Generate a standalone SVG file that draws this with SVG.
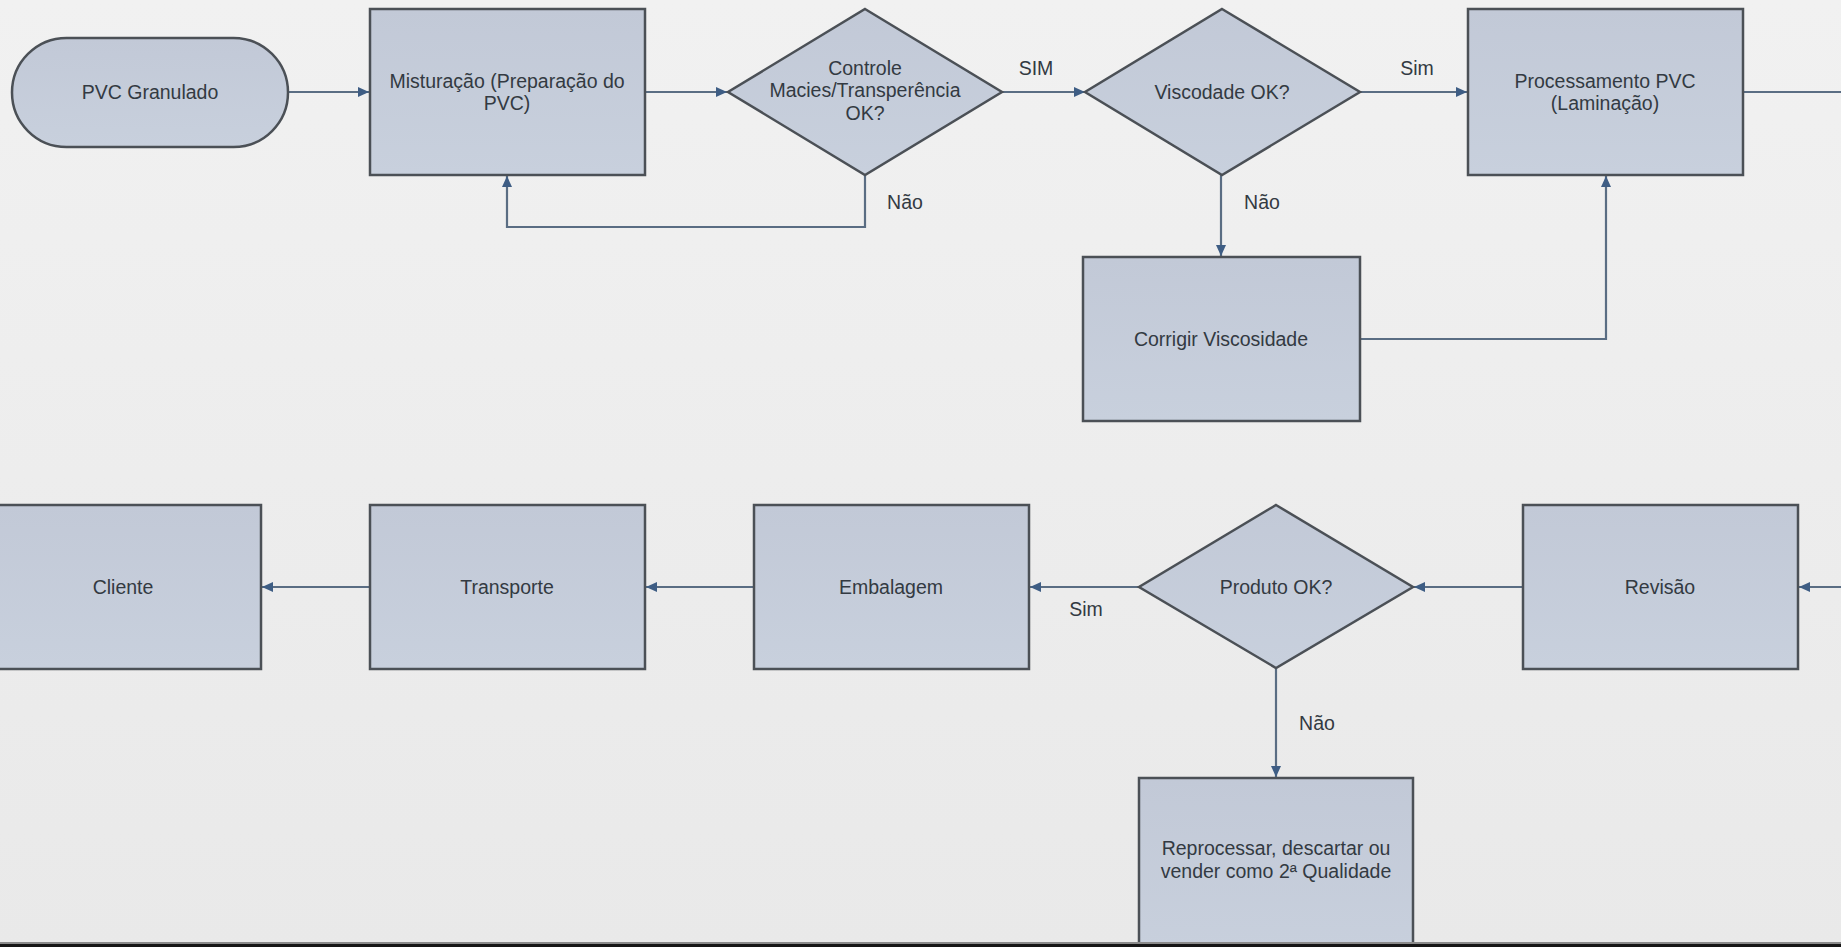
<svg xmlns="http://www.w3.org/2000/svg" width="1841" height="947" viewBox="0 0 1841 947">
  <defs>
    <linearGradient id="bg" x1="0" y1="0" x2="0" y2="1">
      <stop offset="0" stop-color="#f1f1f1"/>
      <stop offset="1" stop-color="#e9e9e9"/>
    </linearGradient>
    <linearGradient id="shapeFill" x1="0" y1="0" x2="0" y2="1">
      <stop offset="0" stop-color="#c2c9d7"/>
      <stop offset="1" stop-color="#c8d0dd"/>
    </linearGradient>
    <marker id="arrow" markerUnits="userSpaceOnUse" markerWidth="12" markerHeight="10" refX="11" refY="5" orient="auto">
      <path d="M0,0 L11,5 L0,10 z" fill="#3e5d84"/>
    </marker>
  </defs>
  <style>
    .shape { fill: url(#shapeFill); stroke: #4b5056; stroke-width: 2.5; }
    .label { font-family: "Liberation Sans", Arial, sans-serif; font-size: 19.5px; fill: #333a42; text-anchor: middle; }
    .edge { fill: none; stroke: #5a6d83; stroke-width: 2.2; }
    .edge-arrow { marker-end: url(#arrow); }
  </style>

  <rect x="0" y="0" width="1841" height="947" fill="url(#bg)"/>

  <!-- connectors -->
  <g id="connectors">
    <path class="edge edge-arrow" d="M288,92 H369"/>
    <path class="edge edge-arrow" d="M645,92 H727"/>
    <path class="edge edge-arrow" d="M865,175 V227 H507 V176"/>
    <path class="edge edge-arrow" d="M1002,92 H1085"/>
    <path class="edge edge-arrow" d="M1221,175 V256"/>
    <path class="edge edge-arrow" d="M1360,92 H1467"/>
    <path class="edge edge-arrow" d="M1360,339 H1606 V176"/>
    <path class="edge" d="M1743,92 H1841"/>
    <path class="edge edge-arrow" d="M1841,587 H1799"/>
    <path class="edge edge-arrow" d="M1523,587 H1414"/>
    <path class="edge edge-arrow" d="M1139,587 H1030"/>
    <path class="edge edge-arrow" d="M1276,668 V777"/>
    <path class="edge edge-arrow" d="M754,587 H646"/>
    <path class="edge edge-arrow" d="M370,587 H262"/>

    <text class="label" x="1036" y="75">SIM</text>
    <text class="label" x="1417" y="75">Sim</text>
    <text class="label" x="905" y="209">Não</text>
    <text class="label" x="1262" y="209">Não</text>
    <text class="label" x="1086" y="616">Sim</text>
    <text class="label" x="1317" y="730">Não</text>
  </g>

  <!-- row 1 -->
  <g id="pvc-granulado">
    <rect class="shape" x="12" y="38" width="276" height="109" rx="54.5" ry="54.5"/>
    <text class="label" x="150" y="99">PVC Granulado</text>
  </g>

  <g id="misturacao">
    <rect class="shape" x="370" y="9" width="275" height="166"/>
    <text class="label" x="507" y="88">Misturação (Preparação do</text>
    <text class="label" x="507" y="110">PVC)</text>
  </g>

  <g id="controle-macies">
    <polygon class="shape" points="865,9 1002,92 865,175 728,92"/>
    <text class="label" x="865" y="75">Controle</text>
    <text class="label" x="865" y="97">Macies/Transperência</text>
    <text class="label" x="865" y="120">OK?</text>
  </g>

  <g id="viscosidade-ok">
    <polygon class="shape" points="1222,9 1360,92 1222,175 1085,92"/>
    <text class="label" x="1222" y="99">Viscodade OK?</text>
  </g>

  <g id="processamento">
    <rect class="shape" x="1468" y="9" width="275" height="166"/>
    <text class="label" x="1605" y="88">Processamento PVC</text>
    <text class="label" x="1605" y="110">(Laminação)</text>
  </g>

  <g id="corrigir-viscosidade">
    <rect class="shape" x="1083" y="257" width="277" height="164"/>
    <text class="label" x="1221" y="346">Corrigir Viscosidade</text>
  </g>

  <!-- row 2 -->
  <g id="cliente">
    <rect class="shape" x="-14" y="505" width="275" height="164"/>
    <text class="label" x="123" y="594">Cliente</text>
  </g>

  <g id="transporte">
    <rect class="shape" x="370" y="505" width="275" height="164"/>
    <text class="label" x="507" y="594">Transporte</text>
  </g>

  <g id="embalagem">
    <rect class="shape" x="754" y="505" width="275" height="164"/>
    <text class="label" x="891" y="594">Embalagem</text>
  </g>

  <g id="produto-ok">
    <polygon class="shape" points="1276,505 1413,587 1276,668 1139,587"/>
    <text class="label" x="1276" y="594">Produto OK?</text>
  </g>

  <g id="revisao">
    <rect class="shape" x="1523" y="505" width="275" height="164"/>
    <text class="label" x="1660" y="594">Revisão</text>
  </g>

  <g id="reprocessar">
    <rect class="shape" x="1139" y="778" width="274" height="180"/>
    <text class="label" x="1276" y="855">Reprocessar, descartar ou</text>
    <text class="label" x="1276" y="878">vender como 2ª Qualidade</text>
  </g>

  <!-- bottom frame edge -->
  <rect x="0" y="942" width="1841" height="2" fill="#8a8a8a"/>
  <rect x="0" y="944" width="1841" height="3" fill="#151515"/>
</svg>
